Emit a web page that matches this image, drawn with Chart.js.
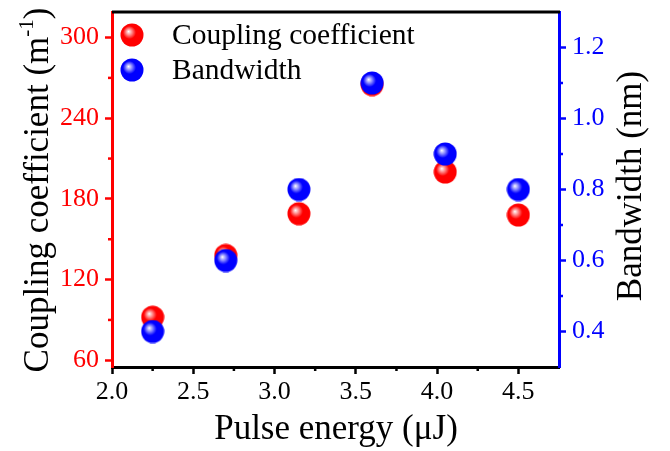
<!DOCTYPE html>
<html><head><meta charset="utf-8">
<script src="https://cdn.jsdelivr.net/npm/chart.js@4/dist/chart.umd.min.js"></script>
<style>html,body{margin:0;padding:0;background:#fff}</style>
</head><body>
<canvas id="c" width="670" height="451"></canvas>
<script>
// data
const energy=[2.25,2.7,3.15,3.6,4.05,4.5];
const coupling=[92,138,169,265,200,168];
const bandwidth=[0.4,0.6,0.8,1.1,0.9,0.8];
const xTicks=[2.0,2.5,3.0,3.5,4.0,4.5];
const xMinor=[2.25,2.75,3.25,3.75,4.25];
const leftTicks=[60,120,180,240,300];
const leftMinor=[90,150,210,270];
const rightTicks=[0.4,0.6,0.8,1.0,1.2];
const rightMinor=[0.5,0.7,0.9,1.1];

const FF='"Liberation Serif","Times New Roman",serif';
const RED='#ff0000',BLUE='#0000ff';

function ball(base,light){
  const s=24,c=document.createElement('canvas');c.width=s;c.height=s;
  const g=c.getContext('2d');
  const gr=g.createRadialGradient(8.5,8.5,0,10.5,10.5,13);
  gr.addColorStop(0,'#ffffff');gr.addColorStop(0.2,light);gr.addColorStop(0.5,base);gr.addColorStop(1,base);
  g.fillStyle=gr;g.beginPath();g.arc(12,12,11.5,0,Math.PI*2);g.fill();
  return c;
}
const redBall=ball(RED,'#ff9a9a'),blueBall=ball(BLUE,'#9a9aff');

// no auto padding from tick labels, keep the plot box fixed
function noPad(s){s.paddingTop=0;s.paddingBottom=0;s.paddingLeft=0;s.paddingRight=0}

const deco={id:'deco',afterDraw(ch){
  const g=ch.ctx,a=ch.chartArea,sx=ch.scales.x,sl=ch.scales.y,sr=ch.scales.y1;
  g.save();
  // top frame line
  g.strokeStyle='#000';g.lineWidth=3;
  g.beginPath();g.moveTo(a.left,a.top);g.lineTo(a.right+1,a.top);g.stroke();
  // minor ticks
  g.lineWidth=2.5;
  g.strokeStyle='#000';
  xMinor.forEach(v=>{const p=sx.getPixelForValue(v);g.beginPath();g.moveTo(p,a.bottom);g.lineTo(p,a.bottom+4);g.stroke();});
  g.strokeStyle=RED;
  leftMinor.forEach(v=>{const p=sl.getPixelForValue(v);g.beginPath();g.moveTo(a.left,p);g.lineTo(a.left-4,p);g.stroke();});
  g.strokeStyle=BLUE;
  rightMinor.forEach(v=>{const p=sr.getPixelForValue(v);g.beginPath();g.moveTo(a.right,p);g.lineTo(a.right+4,p);g.stroke();});

  // legend
  g.fillStyle='#000';g.textBaseline='middle';g.textAlign='left';
  g.font='29.5px '+FF;
  [[redBall,35],[blueBall,70]].forEach((it,i)=>{
    g.drawImage(it[0],132-12,it[1]-12);
    g.fillText(ch.data.datasets[i].label,172,it[1]+1);
  });

  // axis titles
  g.textAlign='center';g.font='35px '+FF;
  g.fillText('Pulse energy (\u03bcJ)',336,430);

  g.save();g.translate(632,186);g.rotate(-Math.PI/2);
  g.fillText('Bandwidth (nm)',0,0);g.restore();

  g.save();g.translate(39,190);g.rotate(-Math.PI/2);
  const t1='Coupling coefficient (m',t2='-1',t3=')';
  g.font='35px '+FF;const w1=g.measureText(t1).width,w3=g.measureText(t3).width;
  g.font='21px '+FF;const w2=g.measureText(t2).width;
  let x0=-(w1+w2+w3)/2;g.textAlign='left';
  g.font='35px '+FF;g.fillText(t1,x0,0);
  g.font='21px '+FF;g.fillText(t2,x0+w1,-12);
  g.font='35px '+FF;g.fillText(t3,x0+w1+w2,0);
  g.restore();
  g.restore();
}};

new Chart(document.getElementById('c'),{
  type:'scatter',
  data:{datasets:[
    {label:'Coupling coefficient',data:energy.map((x,i)=>({x,y:coupling[i]})),yAxisID:'y',pointStyle:redBall,order:2},
    {label:'Bandwidth',data:energy.map((x,i)=>({x,y:bandwidth[i]})),yAxisID:'y1',pointStyle:blueBall,order:1}
  ]},
  options:{
    responsive:false,animation:false,
    layout:{padding:{top:12,left:0,right:0,bottom:0}},
    plugins:{legend:{display:false},tooltip:{enabled:false}},
    scales:{
      x:{type:'linear',min:2.0,max:4.75,
        afterFit(s){s.height=84;noPad(s)},
        afterBuildTicks(s){s.ticks=xTicks.map(v=>({value:v}))},
        ticks:{color:'#000',font:{family:FF,size:26},padding:3,maxRotation:0,callback:v=>v.toFixed(1)},
        grid:{display:true,drawOnChartArea:false,drawTicks:true,tickLength:7,tickWidth:2.5,tickColor:'#000'},
        border:{color:'#000',width:3}},
      y:{type:'linear',position:'left',min:55,max:319,
        afterFit(s){s.width=112;noPad(s)},
        afterBuildTicks(s){s.ticks=leftTicks.map(v=>({value:v}))},
        ticks:{color:RED,font:{family:FF,size:26},padding:6,callback:v=>String(v)},
        grid:{display:true,drawOnChartArea:false,drawTicks:true,tickLength:7,tickWidth:2.5,tickColor:RED},
        border:{color:RED,width:3}},
      y1:{type:'linear',position:'right',min:0.3,max:1.3,
        afterFit(s){s.width=111;noPad(s)},
        afterBuildTicks(s){s.ticks=rightTicks.map(v=>({value:v}))},
        ticks:{color:BLUE,font:{family:FF,size:26},padding:6,callback:v=>v.toFixed(1)},
        grid:{display:true,drawOnChartArea:false,drawTicks:true,tickLength:7,tickWidth:2.5,tickColor:BLUE},
        border:{color:BLUE,width:3}}
    }
  },
  plugins:[deco]
});
</script>
</body></html>
